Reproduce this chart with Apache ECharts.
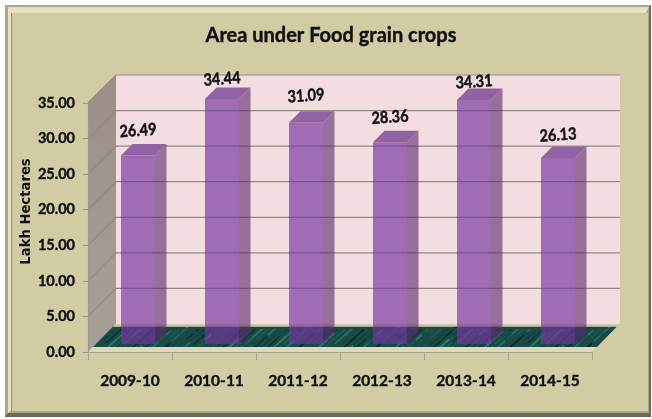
<!DOCTYPE html>
<html>
<head>
<meta charset="utf-8">
<script src="https://cdn.jsdelivr.net/npm/echarts@6/dist/echarts.min.js"></script>
<style>html,body{margin:0;padding:0;background:#fff}#c{width:652px;height:419px}</style>
</head>
<body>
<div id="c"></div>
<script>
const categories = ['2009-10', '2010-11', '2011-12', '2012-13', '2013-14', '2014-15'];
const areaValues = [26.49, 34.44, 31.09, 28.36, 34.31, 26.13];
const valueTicks = [0, 5, 10, 15, 20, 25, 30, 35];

const DEPTH = 28, BAR_INSET = 8, BAR_DEPTH = 11.5, BAR_W = 34;
const FONT = 'Lato, "Noto Sans", sans-serif';
const INK = '#111';
const labelLift = [25, 20, 27, 25, 18, 23];

function floorTexture() {
  const c = document.createElement('canvas');
  c.width = 211; c.height = 47;
  const g = c.getContext('2d');
  g.fillStyle = '#194a48';
  g.fillRect(0, 0, 211, 47);
  const tones = ['#0e3533', '#27705f', '#133f3d', '#205a51', '#0b2d2d', '#2f7a6b', '#174a46'];
  for (let i = 0; i < 190; i++) {
    g.strokeStyle = tones[i % tones.length];
    g.lineWidth = 0.6 + (i % 4) * 0.45;
    const x = (i * 37) % 211, y = (i * 13) % 47, l = 6 + (i * 11) % 17;
    g.beginPath();
    g.moveTo(x, y);
    g.lineTo(x + l, y - l * 0.9);
    g.stroke();
  }
  return c;
}
const floorPattern = { image: floorTexture(), repeat: 'repeat' };

function poly(points, style) {
  return { type: 'polygon', shape: { points }, style };
}

function renderWalls(params, api) {
  const span = params.coordSys;
  const x0 = span.x, x1 = span.x + span.width, y1 = span.y, y0 = span.y + span.height;
  return {
    type: 'group',
    children: [
      poly([[x0 + DEPTH, y1 - DEPTH], [x1 + DEPTH, y1 - DEPTH], [x1 + DEPTH, y0 - DEPTH], [x0 + DEPTH, y0 - DEPTH]], { fill: '#f4dde0' }),
      poly([[x0, y1], [x0 + DEPTH, y1 - DEPTH], [x0 + DEPTH, y0 - DEPTH], [x0, y0]], {
        fill: { type: 'linear', x: 0, y: 0, x2: 0, y2: 1, colorStops: [{ offset: 0, color: '#9c8f8a' }, { offset: 1, color: '#a89e98' }] }
      })
    ]
  };
}

function renderGrid(params, api) {
  const p = api.coord([0, api.value(0)]);
  const span = params.coordSys;
  const x0 = span.x, x1 = span.x + span.width, y = p[1];
  return {
    type: 'polyline',
    shape: { points: [[x0, y], [x0 + DEPTH, y - DEPTH], [x1 + DEPTH, y - DEPTH]] },
    style: { stroke: '#948a80', lineWidth: 1.2, fill: null }
  };
}

function renderFloor(params, api) {
  const span = params.coordSys;
  const x0 = span.x, x1 = span.x + span.width, y0 = span.y + span.height;
  return {
    type: 'group',
    children: [
      poly([[x0, y0], [x0 + 5, y0 - 5], [x1 + 5, y0 - 5], [x1, y0]], { fill: '#ddd8b8' }),
      poly([[x0 + 5, y0 - 5], [x0 + 25, y0 - 25.5], [x1 + 25, y0 - 25.5], [x1 + 5, y0 - 5]], { fill: floorPattern }),
      poly([[x0 + 25, y0 - 25.5], [x0 + DEPTH, y0 - DEPTH], [x1 + DEPTH, y0 - DEPTH], [x1 + 25, y0 - 25.5]], { fill: '#cfc8a8' })
    ]
  };
}

function renderBar(params, api) {
  const i = api.value(0), v = api.value(1);
  const top = api.coord([i, v]), base = api.coord([i, 0]);
  const x = top[0] + BAR_INSET - BAR_W / 2;
  const yt = top[1] - BAR_INSET, yb = base[1] - BAR_INSET;
  const xr = x + BAR_W, d = BAR_DEPTH;
  const cx = x + BAR_W / 2;
  return {
    type: 'group',
    children: [
      poly([[x, yt], [xr, yt], [xr, yb], [x, yb]], { fill: 'rgba(118,54,160,0.67)' }),
      poly([[xr, yt], [xr + d, yt - d], [xr + d, yb - d], [xr, yb]], { fill: 'rgba(92,44,112,0.62)' }),
      poly([[x, yt], [x + d, yt - d], [xr + d, yt - d], [xr, yt]], { fill: '#9064a4' }),
      {
        type: 'text', x: cx, y: yt - labelLift[i], rotation: 0.07, scaleY: 1.15,
        style: { text: v.toFixed(2), font: 'bold 14.5px ' + FONT, fill: INK, stroke: INK, lineWidth: 0.4, align: 'center', verticalAlign: 'middle' }
      }
    ]
  };
}

const chart = echarts.init(document.getElementById('c'), null, { renderer: 'canvas' });
chart.setOption({
  animation: false,
  backgroundColor: '#ffffff',
  graphic: {
    elements: [
      { type: 'rect', z: -10, silent: true, shape: { x: 5, y: 5, width: 646, height: 412 }, style: { fill: '#6b6957' } },
      { type: 'polygon', z: -9, silent: true, shape: { points: [[5, 5], [651, 5], [649, 7], [8, 7], [8, 413], [5, 416]] }, style: { fill: '#a9a692' } },
      { type: 'rect', z: -8, silent: true, shape: { x: 8, y: 7, width: 641, height: 406 }, style: { fill: '#aba78a' } },
      { type: 'polygon', z: -7, silent: true, shape: { points: [[8, 7], [649, 7], [646, 13], [12, 13], [12, 410], [8, 413]] }, style: { fill: '#e6e1bf' } },
      { type: 'rect', z: -6, silent: true, shape: { x: 11, y: 13, width: 637, height: 398 }, style: { fill: '#d2cca5' } },
      { type: 'rect', z: -5, silent: true, shape: { x: 11, y: 13, width: 1.2, height: 398 }, style: { fill: '#98957e' } }
    ]
  },
  title: {
    text: 'Area under Food grain crops',
    left: 326, top: 21, textAlign: 'center',
    textStyle: { fontFamily: FONT, fontWeight: 'bold', fontSize: 20, color: INK, textBorderColor: INK, textBorderWidth: 0.4 }
  },
  grid: { left: 88, right: 60, top: 103, bottom: 67, outerBoundsMode: 'none' },
  xAxis: {
    type: 'category', data: categories, z: 10,
    axisLine: { lineStyle: { color: '#a8a58a', width: 1.2 } },
    axisTick: { show: true, length: 8, alignWithLabel: false, lineStyle: { color: '#a8a58a' } },
    axisLabel: { interval: 0, margin: 21, fontFamily: FONT, fontWeight: 'bold', fontSize: 15.5, color: INK, textBorderColor: INK, textBorderWidth: 0.4 }
  },
  yAxis: {
    type: 'value', min: 0, max: 35, interval: 5, z: 10,
    name: 'Lakh Hectares', nameLocation: 'middle', nameGap: 55, nameMoveOverlap: false,
    nameTextStyle: { fontFamily: '"DejaVu Sans"', fontWeight: 'bold', fontSize: 13.2, color: INK, padding: [0, 0, 0, 32] },
    axisLine: { show: true, lineStyle: { color: '#9a9888', width: 1.2 } },
    axisTick: { show: true, length: 5, lineStyle: { color: '#9a9888' } },
    axisLabel: { margin: 13, fontFamily: FONT, fontWeight: 'bold', fontSize: 14.5, color: INK, textBorderColor: INK, textBorderWidth: 0.4, formatter: v => v.toFixed(2) },
    splitLine: { show: false }
  },
  series: [
    { type: 'custom', z: 1, silent: true, clip: false, data: [[0]], renderItem: renderWalls },
    { type: 'custom', z: 2, silent: true, clip: false, data: valueTicks.slice(1).map(v => [v]), encode: { y: 0 }, renderItem: renderGrid },
    { type: 'custom', z: 3, silent: true, clip: false, data: [[0]], renderItem: renderFloor },
    { type: 'custom', z: 4, silent: true, clip: false, data: areaValues.map((v, i) => [i, v]), encode: { x: 0, y: 1 }, renderItem: renderBar }
  ]
});
</script>
</body>
</html>
